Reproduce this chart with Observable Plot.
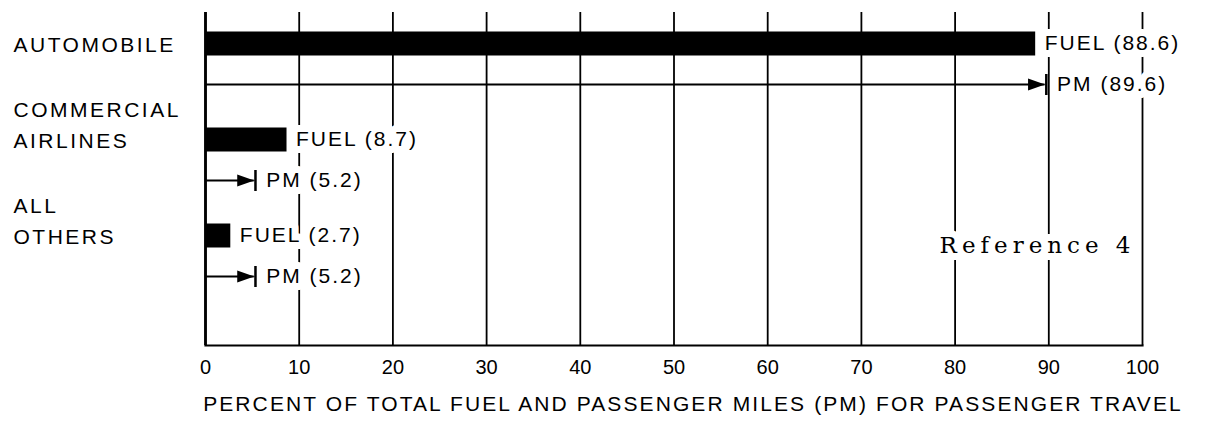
<!DOCTYPE html>
<html>
<head>
<meta charset="utf-8">
<script src="https://cdn.jsdelivr.net/npm/d3@7"></script>
<script src="https://cdn.jsdelivr.net/npm/@observablehq/plot@0.6"></script>
<style>
  html, body { margin: 0; padding: 0; background: white; }
  [aria-label="category-label"], [aria-label="category-label"] tspan { letter-spacing: 2.5px; }
  [aria-label="value-label"] { letter-spacing: 2px; }
  [aria-label="axis-title"] { letter-spacing: 2.1px; }
  [aria-label="source-note"] { letter-spacing: 5px; }
</style>
</head>
<body>
<div id="chart"></div>
<script>
// ---- data ----
const categories = ["AUTOMOBILE", "COMMERCIAL AIRLINES", "ALL OTHERS"];
const categoryLabels = ["AUTOMOBILE", "COMMERCIAL\nAIRLINES", "ALL\nOTHERS"];
const fuelPercent = [88.6, 8.7, 2.7];
const passengerMilesPercent = [89.6, 5.2, 5.2];
const xTicks = [0, 10, 20, 30, 40, 50, 60, 70, 80, 90, 100];
const axisTitle = "PERCENT OF TOTAL FUEL AND PASSENGER MILES (PM) FOR PASSENGER TRAVEL";
const sourceNote = "Reference 4";

const rows = categories.map((c, i) => ({
  category: c,
  label: categoryLabels[i],
  fuel: fuelPercent[i],
  pm: passengerMilesPercent[i]
}));

// arrow end: filled triangle whose tip touches a short vertical bar
const arrowEnd = {
  draw(context) {
    context.moveTo(0, 0);
    context.lineTo(-17, -6);
    context.lineTo(-17, 6);
    context.closePath();
    context.moveTo(0, -10.5);
    context.lineTo(2.5, -10.5);
    context.lineTo(2.5, 10.5);
    context.lineTo(0, 10.5);
    context.closePath();
  }
};

const halo = {stroke: "white", strokeWidth: 14, strokeLinejoin: "round", paintOrder: "stroke"};
const tag = (name) => () => name;

const chart = Plot.plot({
  width: 1224,
  height: 423,
  marginLeft: 205,
  marginRight: 82,
  marginTop: 12,
  marginBottom: 78,
  style: {fontFamily: "Liberation Sans, Arial, sans-serif", fontSize: "20px", background: "white", color: "black"},
  x: {domain: [0, 100], axis: null},
  y: {type: "point", domain: categories, padding: 0.7165, align: 0.36, axis: null},
  marks: [
    Plot.ruleX(xTicks, {stroke: "black", strokeWidth: 1.8}),
    Plot.ruleX(xTicks.slice(0, 1), {stroke: "black", strokeWidth: 2.8}),
    Plot.frame({anchor: "bottom", stroke: "black", strokeWidth: 2.2}),
    // fuel bars
    Plot.ruleY(rows, {x1: 0, x2: "fuel", y: "category", dy: -20, stroke: "black", strokeWidth: 24}),
    // passenger-mile arrows
    Plot.ruleY(rows, {x1: 0, x2: "pm", y: "category", dy: 21, stroke: "black", strokeWidth: 2}),
    Plot.dot(rows, {x: "pm", y: "category", dy: 21, symbol: arrowEnd, fill: "black", stroke: "none", r: 5}),
    // value labels
    Plot.text(rows, {x: "fuel", y: "category", dy: -20, dx: 9, text: d => `FUEL (${d.fuel})`,
      textAnchor: "start", fontSize: 21, fill: "black", ariaLabel: tag("value-label"), ...halo}),
    Plot.text(rows, {x: "pm", y: "category", dy: 21, dx: 12, text: d => `PM (${d.pm})`,
      textAnchor: "start", fontSize: 21, fill: "black", ariaLabel: tag("value-label"), ...halo}),
    // category labels
    Plot.text(rows, {y: "category", text: "label", frameAnchor: "left", dx: -192, dy: -12,
      textAnchor: "start", lineAnchor: "bottom", lineHeight: 1.45, fontSize: 21, fill: "black",
      ariaLabel: tag("category-label")}),
    // x axis
    Plot.axisX(xTicks, {tickSize: 0, tickPadding: 14, fontSize: 20, label: null, fill: "black"}),
    Plot.text([axisTitle], {frameAnchor: "bottom", dy: 65, dx: 19, fontSize: 21, fill: "black",
      ariaLabel: tag("axis-title")}),
    // source note
    Plot.text([sourceNote], {frameAnchor: "bottom-right", dx: -7, dy: -93, textAnchor: "end",
      fontFamily: "DejaVu Serif", fontSize: 23, fill: "black", ariaLabel: tag("source-note"), ...halo})
  ]
});

document.getElementById("chart").appendChild(chart);
</script>
</body>
</html>
